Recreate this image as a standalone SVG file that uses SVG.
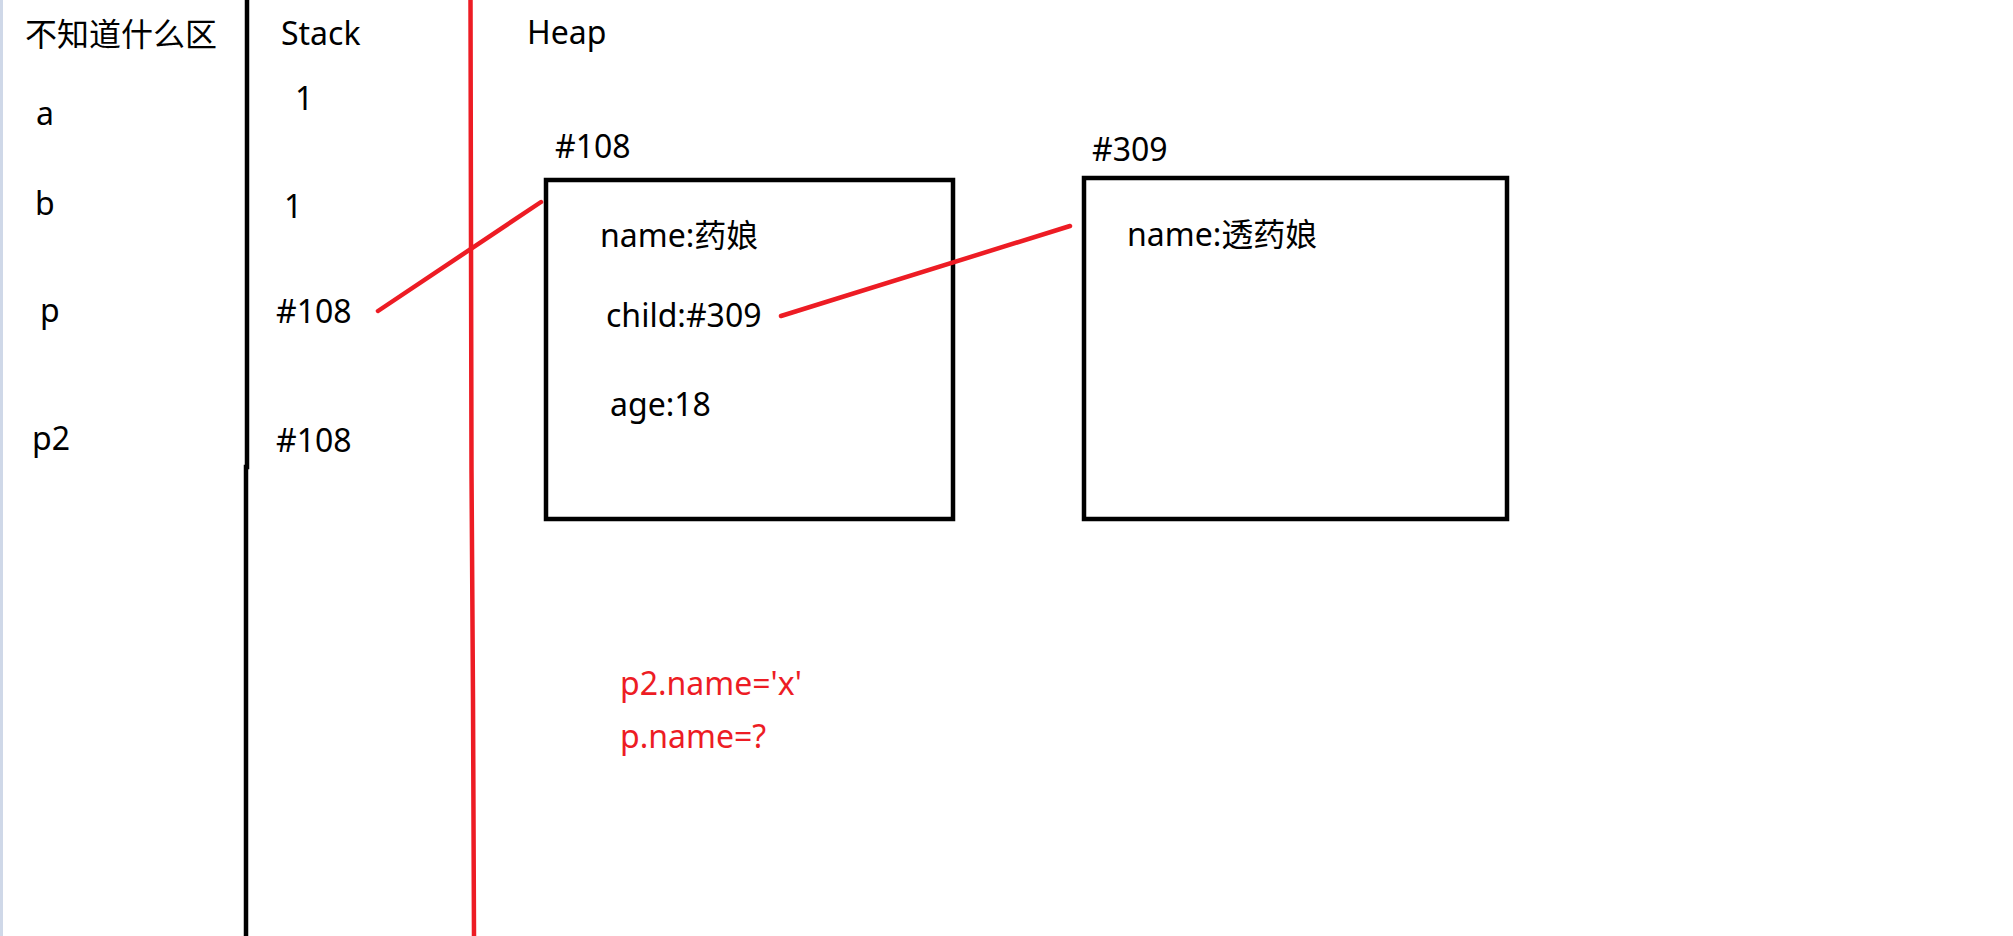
<svg xmlns="http://www.w3.org/2000/svg" width="2013" height="936" viewBox="0 0 2013 936">
<style>
text{font-family:"Noto Sans","Noto Sans CJK SC",sans-serif;font-size:32px;fill:#000}
.red{fill:#ed1c24}
.box{fill:none;stroke:#000;stroke-width:4.5}
.conn{fill:none;stroke:#ed1c24;stroke-width:4.5;stroke-linecap:round}
</style>
<rect x="0" y="0" width="2013" height="936" fill="#fff"/>
<rect x="0" y="0" width="3" height="936" fill="#cfd8e8"/>
<g id="dividers">
<polyline points="247,0 247,467 246,467 246,936" fill="none" stroke="#000" stroke-width="4.5"/>
<polyline points="470.5,0 471,240 471.5,470 473,700 474,936" fill="none" stroke="#ed1c24" stroke-width="4.5"/>
</g>
<g id="headers">
<text x="25" y="46" font-family="'Noto Sans CJK SC',sans-serif">不知道什么区</text>
<text x="281" y="45">Stack</text>
<text x="527" y="44">Heap</text>
</g>
<g id="var-a"><text x="36" y="125">a</text><text x="295" y="110">1</text></g>
<g id="var-b"><text x="35" y="215">b</text><text x="284" y="218">1</text></g>
<g id="var-p"><text x="40" y="322">p</text><text x="276" y="323">#108</text></g>
<g id="var-p2"><text x="32" y="450">p2</text><text x="276" y="452">#108</text></g>
<g id="obj108">
<text x="555" y="158">#108</text>
<rect class="box" x="546" y="180" width="407" height="339"/>
<text x="600" y="247">name:药娘</text>
<text x="606" y="327">child:#309</text>
<text x="610" y="416">age:18</text>
</g>
<g id="obj309">
<text x="1092" y="161">#309</text>
<rect class="box" x="1084" y="178" width="423" height="341"/>
<text x="1127" y="246">name:透药娘</text>
</g>
<g id="connectors">
<line class="conn" x1="378" y1="311" x2="541" y2="202"/>
<line class="conn" x1="781" y1="316" x2="1070" y2="226"/>
</g>
<g id="note">
<text class="red" x="620" y="695">p2.name='x'</text>
<text class="red" x="620" y="748">p.name=?</text>
</g>
</svg>
